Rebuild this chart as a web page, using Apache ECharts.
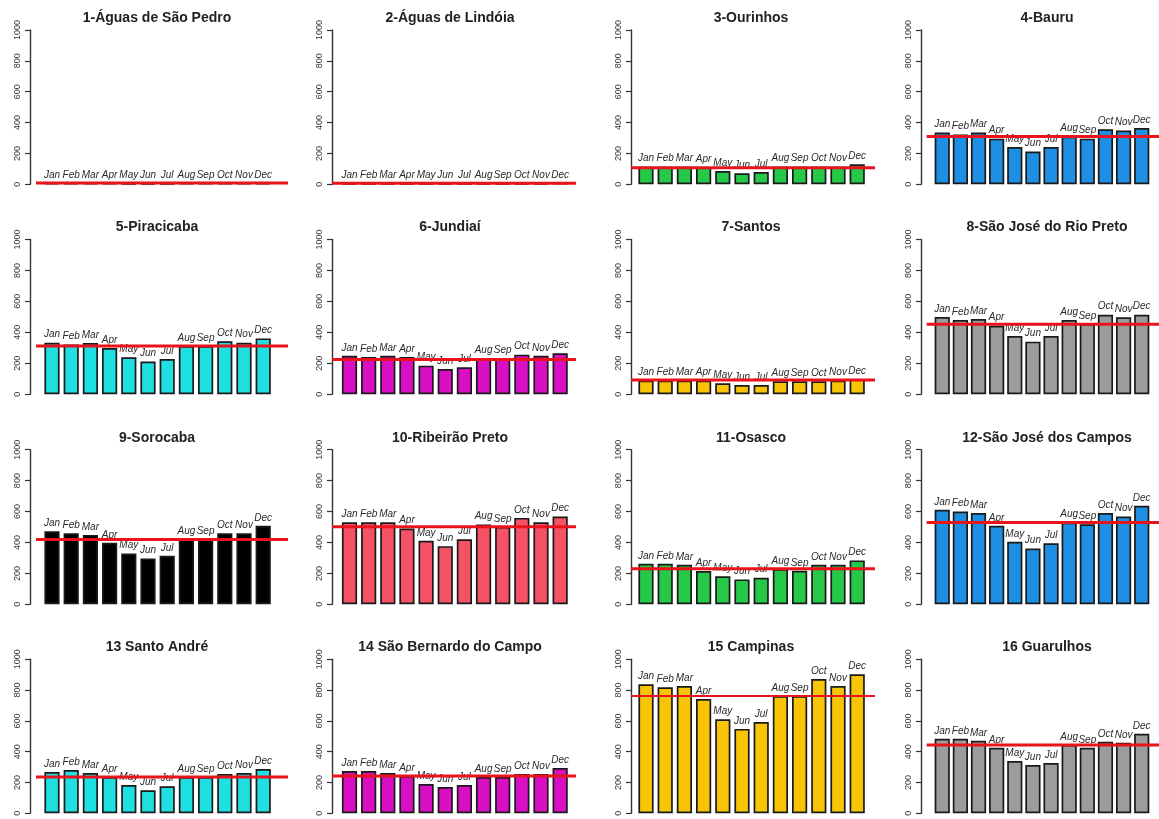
<!DOCTYPE html>
<html><head><meta charset="utf-8">
<script src="https://cdn.jsdelivr.net/npm/echarts@6/dist/echarts.min.js"></script>
<style>html,body{margin:0;padding:0;background:#fff}#c{width:1159px;height:819px}</style>
</head><body><div id="c"></div>
<script>
// ---------- data ----------
const months = ['Jan','Feb','Mar','Apr','May','Jun','Jul','Aug','Sep','Oct','Nov','Dec'];
const yTicks = [0, 200, 400, 600, 800, 1000];
const titles = [
  '1-Águas de São Pedro', '2-Águas de Lindóia', '3-Ourinhos', '4-Bauru',
  '5-Piracicaba', '6-Jundiaí', '7-Santos', '8-São José do Rio Preto',
  '9-Sorocaba', '10-Ribeirão Preto', '11-Osasco', '12-São José dos Campos',
  '13 Santo André', '14 São Bernardo do Campo', '15 Campinas', '16 Guarulhos'
];
const v01 = [8, 8, 8, 7, 6, 5, 5, 7, 7, 8, 8, 9];
const v02 = [6, 6, 6, 5, 5, 4, 4, 5, 5, 6, 6, 7];
const v03 = [114, 114, 114, 110, 86, 71, 80, 114, 114, 114, 114, 130];
const v04 = [335, 322, 335, 296, 242, 212, 242, 309, 296, 356, 348, 365];
const v05 = [333, 322, 331, 299, 239, 211, 228, 312, 312, 342, 333, 361];
const v06 = [249, 241, 249, 241, 185, 163, 174, 232, 232, 256, 249, 265];
const v07 = [88, 88, 88, 88, 71, 60, 60, 84, 84, 84, 88, 97];
const v08 = [499, 480, 486, 443, 376, 340, 376, 480, 454, 514, 497, 514];
const v09 = [473, 460, 449, 398, 329, 297, 314, 419, 419, 460, 460, 508];
const v10 = [531, 531, 531, 490, 411, 376, 421, 516, 501, 559, 531, 568];
const v11 = [262, 262, 256, 215, 181, 161, 172, 228, 217, 256, 256, 284];
const v12 = [611, 600, 590, 508, 404, 361, 395, 529, 518, 590, 568, 637];
const v13 = [268, 281, 261, 235, 183, 150, 176, 235, 235, 255, 261, 288];
const v14 = [275, 275, 261, 242, 190, 170, 183, 235, 235, 255, 255, 294];
const v15 = [838, 818, 827, 742, 610, 548, 593, 762, 762, 872, 827, 903];
const v16 = [484, 484, 471, 425, 340, 314, 327, 444, 425, 464, 458, 516];
const means = [8, 6, 108, 309, 312, 224, 92, 452, 419, 501, 230, 529, 235, 242, 762, 444];

// ---------- style / layout ----------
const panelValues = [v01,v02,v03,v04,v05,v06,v07,v08,v09,v10,v11,v12,v13,v14,v15,v16];
const palette = ['#000000','#f55266','#26c84a','#1f8fe3','#1fdfe2','#d90fc4','#f9c406','#9c9c9c'];
const colGeom = [
  {axisX: 30,  janC: 52,    lineStart: 36,  lineEnd: 288,  step: 19.2,  titleX: 157},
  {axisX: 332, janC: 349.5, lineStart: 332, lineEnd: 576,  step: 19.15, titleX: 450},
  {axisX: 631, janC: 646,   lineStart: 631, lineEnd: 875,  step: 19.2,  titleX: 751},
  {axisX: 921, janC: 943.5, lineStart: 927, lineEnd: 1173, step: 19.2,  titleX: 1047}
];
const rowGeom = [
  {top: 30, bottom: 184.3}, {top: 239.4, bottom: 394.3},
  {top: 449.7, bottom: 604.3}, {top: 659.3, bottom: 813.3}
];
const FONT = 'Liberation Sans, Arial, sans-serif';

const option = {animation: false, backgroundColor: '#fff', title: [], grid: [], xAxis: [], yAxis: [], series: []};

panelValues.forEach((vals, k) => {
  const r = Math.floor(k / 4), c = k % 4;
  const cg = colGeom[c], rg = rowGeom[r];
  const xmin = (cg.axisX - cg.janC) / cg.step;
  const xmax = (cg.lineEnd - cg.janC) / cg.step;
  const xl = (cg.lineStart - cg.janC) / cg.step;
  option.title.push({
    text: titles[k], left: cg.titleX, top: rg.top - 19.5, textAlign: 'center', padding: 0,
    textStyle: {fontSize: 14, fontWeight: 'bold', color: '#222', fontFamily: FONT, lineHeight: 15}
  });
  option.grid.push({left: cg.axisX, top: rg.top, width: cg.lineEnd - cg.axisX, height: rg.bottom - rg.top});
  option.xAxis.push({type: 'value', gridIndex: k, min: xmin, max: xmax, show: false});
  option.yAxis.push({
    type: 'value', gridIndex: k, min: yTicks[0], max: yTicks[yTicks.length - 1], interval: 200,
    axisLine: {show: true, onZero: false, lineStyle: {color: '#333', width: 1.4}},
    axisTick: {show: true, length: 5, lineStyle: {color: '#333', width: 1.2}},
    axisLabel: {rotate: 90, fontSize: 9, margin: 8, color: '#3a3344', fontFamily: FONT,
                formatter: v => String(v)},
    splitLine: {show: false}
  });
  option.series.push({
    type: 'bar', xAxisIndex: k, yAxisIndex: k,
    data: vals.map((v, i) => [i, v]),
    barWidth: 15.2,
    itemStyle: {color: palette[k % 8], borderColor: '#1a1a1a', borderWidth: 1.7},
    label: {
      show: true, position: 'top', distance: 3,
      formatter: p => months[p.dataIndex],
      fontStyle: 'italic', fontSize: 10, color: '#2a2a2a', fontFamily: FONT
    }
  });
  option.series.push({
    type: 'line', xAxisIndex: k, yAxisIndex: k, symbol: 'none', silent: true, z: 5,
    data: [[xl, means[k]], [xmax, means[k]]],
    lineStyle: {color: '#e8131b', width: k === 14 ? 2 : 3}
  });
});

const chart = echarts.init(document.getElementById('c'), null, {renderer: 'canvas'});
chart.setOption(option);
</script>
</body></html>
